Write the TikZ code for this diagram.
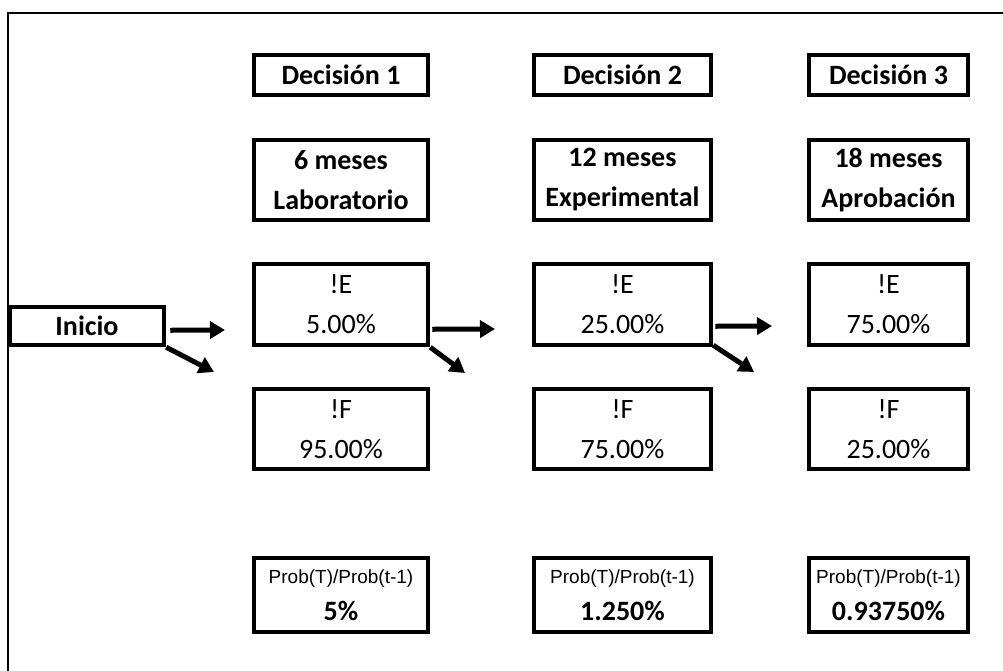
\documentclass[tikz,border=0pt]{standalone}
\usepackage{fontspec}
\setmainfont{Carlito}
\newfontfamily\arialf{Liberation Sans}
\usetikzlibrary{arrows.meta}
\begin{document}
\begin{tikzpicture}[x=1pt,y=-1pt,
  box/.style={draw=black,line width=4.5pt,fill=white,inner sep=0pt,align=center},
  hdr/.style={box,font=\fontsize{28}{40}\selectfont\bfseries,minimum height=40pt},
  two/.style={box,font=\fontsize{28}{40}\selectfont},
  twob/.style={box,font=\fontsize{28}{40}\selectfont\bfseries},
  prob/.style={box,font=\fontsize{28}{37}\selectfont\bfseries,minimum height=74pt},
  arr/.style={line width=5pt,-{Triangle[length=15pt,width=17pt]}}]
\useasboundingbox (0,0) rectangle (1003,670);
\draw[line width=2.5pt] (8,672) -- (8,13) -- (1005,13);
% Inicio
\node[box,font=\fontsize{28}{40}\selectfont\bfseries,minimum width=154pt,minimum height=38pt] (ini) at (87,326) {Inicio};
% column 1
\node[hdr,minimum width=174pt] (d1) at (341,75) {Decisión 1};
\node[twob,minimum width=174pt,minimum height=80pt] (m1) at (341,180) {6 meses\\Laboratorio};
\node[two,minimum width=174pt,minimum height=81pt] (e1) at (341,304.5) {!E\\5.00\%};
\node[two,minimum width=174pt,minimum height=80pt] (f1) at (341,429) {!F\\95.00\%};
\node[prob,minimum width=174pt] (p1) at (341,595) {{\arialf\mdseries\fontsize{19}{37}\selectfont Prob(T)/Prob(t-1)}\\5\%};
% column 2
\node[hdr,minimum width=177pt] (d2) at (622.5,75) {Decisión 2};
\node[twob,minimum width=177pt,minimum height=80pt] (m2) at (622.5,180) {12 meses\\Experimental};
\node[two,minimum width=177pt,minimum height=81pt] (e2) at (622.5,304.5) {!E\\25.00\%};
\node[two,minimum width=177pt,minimum height=80pt] (f2) at (622.5,429) {!F\\75.00\%};
\node[prob,minimum width=177pt] (p2) at (622.5,595) {{\arialf\mdseries\fontsize{19}{37}\selectfont Prob(T)/Prob(t-1)}\\1.250\%};
% column 3
\node[hdr,minimum width=159pt] (d3) at (888.5,75) {Decisión 3};
\node[twob,minimum width=159pt,minimum height=80pt] (m3) at (888.5,180) {18 meses\\Aprobación};
\node[two,minimum width=159pt,minimum height=81pt] (e3) at (888.5,304.5) {!E\\75.00\%};
\node[two,minimum width=159pt,minimum height=80pt] (f3) at (888.5,429) {!F\\25.00\%};
\node[prob,minimum width=159pt] (p3) at (888.5,595) {{\arialf\mdseries\fontsize{19}{37}\selectfont Prob(T)/Prob(t-1)}\\0.93750\%};
% free ends of arrows
\coordinate (a0h) at (225,330);
\coordinate (a0d) at (214,372);
\coordinate (a1h) at (495,329);
\coordinate (a1d) at (465,373);
\coordinate (a2h) at (772,326);
\coordinate (a2d) at (754,372);
% arrows
\draw[arr] ([xshift=4pt,yshift=17pt]ini.south east) -- (a0h);
\draw[arr] (ini.south east) -- (a0d);
\draw[arr] ([xshift=2pt,yshift=18pt]e1.south east) -- (a1h);
\draw[arr] (e1.south east) -- (a1d);
\draw[arr] ([xshift=2pt,yshift=21pt]e2.south east) -- (a2h);
\draw[arr] ([yshift=2pt]e2.south east) -- (a2d);
\end{tikzpicture}
\end{document}
